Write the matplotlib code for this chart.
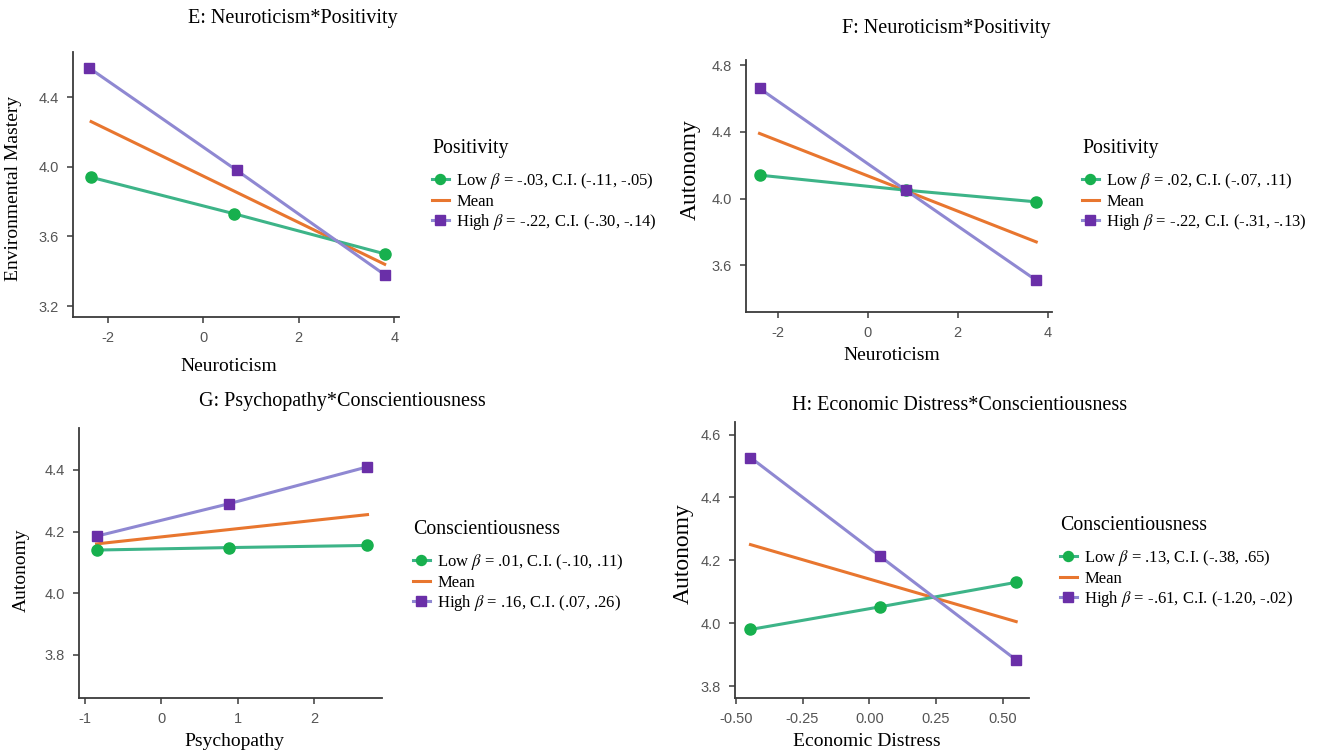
import matplotlib.pyplot as plt
from matplotlib.ticker import FixedLocator

plt.rcParams['mathtext.fontset'] = 'stix'

W, H = 1322, 756

# ---- data ----
# E: Neuroticism*Positivity -> Environmental Mastery
e_x_low = [-2.35, 0.65, 3.8]
e_low = [3.94, 3.73, 3.50]
e_x_high = [-2.4, 0.7, 3.8]
e_high = [4.57, 3.98, 3.38]
e_x_mean = [-2.35, 3.8]
e_mean = [4.26, 3.44]

# F: Neuroticism*Positivity -> Autonomy
f_x = [-2.4, 0.85, 3.75]
f_low = [4.14, 4.05, 3.98]
f_high = [4.66, 4.05, 3.51]
f_x_mean = [-2.4, 3.75]
f_mean = [4.39, 3.74]

# G: Psychopathy*Conscientiousness -> Autonomy
g_x = [-0.85, 0.88, 2.7]
g_low = [4.14, 4.148, 4.155]
g_high = [4.185, 4.29, 4.41]
g_x_mean = [-0.85, 2.7]
g_mean = [4.16, 4.255]

# H: Economic Distress*Conscientiousness -> Autonomy
h_x = [-0.445, 0.04, 0.55]
h_low = [3.98, 4.052, 4.13]
h_high = [4.527, 4.213, 3.883]
h_x_mean = [-0.445, 0.55]
h_mean = [4.25, 4.005]

low_line, low_mark = '#3db488', '#17b04e'
mean_col = '#e8762f'
high_line, high_mark = '#8f88d2', '#6a2fa8'

serif = 'Liberation Serif'
sans = 'Liberation Sans'

fig = plt.figure(figsize=(W / 100, H / 100), dpi=100)


def px_axes(l, t, r, b):
    return fig.add_axes([l / W, 1 - b / H, (r - l) / W, (b - t) / H])


def ftext(x, y, s, **kw):
    fig.text(x / W, 1 - y / H, s, family=serif, color='black', **kw)


def panel(box, xl, yl, xt, yt, xfmt, x_low, low, x_high, high, x_mean, mean,
          title, tpos, xlab, xpos, ylab, ypos, ysize, leg_title, labels, lpos):
    ax = px_axes(*box)
    ax.plot(x_low, low, color=low_line, lw=2.2, marker='o', ms=8,
            mfc=low_mark, mec=low_mark, label=labels[0], zorder=3)
    ax.plot(x_mean, mean, color=mean_col, lw=2.2, label='Mean', zorder=2)
    ax.plot(x_high, high, color=high_line, lw=2.2, marker='s', ms=7.5,
            mfc=high_mark, mec=high_mark, label=labels[1], zorder=4)
    ax.set_xlim(*xl)
    ax.set_ylim(*yl)
    ax.xaxis.set_major_locator(FixedLocator(xt))
    ax.yaxis.set_major_locator(FixedLocator(yt))
    ax.set_xticklabels([xfmt.format(v) for v in xt])
    ax.set_yticklabels(['{:.1f}'.format(v) for v in yt])
    for s in ['top', 'right']:
        ax.spines[s].set_visible(False)
    for s in ['left', 'bottom']:
        ax.spines[s].set_color('#3a3a3a')
        ax.spines[s].set_linewidth(1.3)
    ax.tick_params(direction='out', length=4, width=1.1, color='#3a3a3a',
                   labelcolor='#555555', labelsize=10.5, pad=6)
    for lab in ax.get_xticklabels() + ax.get_yticklabels():
        lab.set_family(sans)

    ftext(tpos[0], tpos[1], title, fontsize=14.5, ha='center', va='center')
    ftext(xpos[0], xpos[1], xlab, fontsize=14, ha='center', va='center')
    ftext(ypos[0], ypos[1], ylab, fontsize=ysize, ha='center', va='center',
          rotation=90)

    leg = ax.legend(loc='upper left',
                    bbox_to_anchor=(lpos[0] / W, 1 - lpos[1] / H),
                    bbox_transform=fig.transFigure, frameon=False,
                    title=leg_title, alignment='left', handlelength=1.0,
                    handletextpad=0.45, labelspacing=0.14, borderpad=0,
                    borderaxespad=0, markerscale=0.9,
                    prop={'family': serif, 'size': 12},
                    title_fontproperties={'family': serif, 'size': 14.3})
    # more room between the legend title and its entries
    leg._legend_box.sep = 9.5
    return ax


panel((73, 52, 399, 317), (-2.73, 4.1), (3.137, 4.66), [-2, 0, 2, 4],
      [3.2, 3.6, 4.0, 4.4], '{:g}', e_x_low, e_low, e_x_high, e_high,
      e_x_mean, e_mean, 'E: Neuroticism*Positivity', (293, 18),
      'Neuroticism', (229, 366), 'Environmental Mastery', (14, 188), 14,
      'Positivity',
      [r'Low $\beta$ = -.03, C.I. (-.11, -.05)',
       r'High $\beta$ = -.22, C.I. (-.30, -.14)'], (432, 139))

panel((746, 60, 1052, 312), (-2.7, 4.1), (3.32, 4.83), [-2, 0, 2, 4],
      [3.6, 4.0, 4.4, 4.8], '{:g}', f_x, f_low, f_x, f_high,
      f_x_mean, f_mean, 'F: Neuroticism*Positivity', (946, 29),
      'Neuroticism', (892, 356), 'Autonomy', (690, 170), 17,
      'Positivity',
      [r'Low $\beta$ = .02, C.I. (-.07, .11)',
       r'High $\beta$ = -.22, C.I. (-.31, -.13)'], (1082, 139))

panel((79, 428, 382, 698), (-1.08, 2.89), (3.66, 4.536), [-1, 0, 1, 2],
      [3.8, 4.0, 4.2, 4.4], '{:g}', g_x, g_low, g_x, g_high,
      g_x_mean, g_mean, 'G: Psychopathy*Conscientiousness', (342, 401),
      'Psychopathy', (234, 742), 'Autonomy', (21, 570), 14,
      'Conscientiousness',
      [r'Low $\beta$ = .01, C.I. (-.10, .11)',
       r'High $\beta$ = .16, C.I. (.07, .26)'], (413, 520))

panel((735, 422, 1029, 698), (-0.503, 0.598), (3.762, 4.64),
      [-0.5, -0.25, 0.0, 0.25, 0.5], [3.8, 4.0, 4.2, 4.4, 4.6], '{:.2f}',
      h_x, h_low, h_x, h_high, h_x_mean, h_mean,
      'H: Economic Distress*Conscientiousness', (960, 405),
      'Economic Distress', (867, 742), 'Autonomy', (683, 554), 17,
      'Conscientiousness',
      [r'Low $\beta$ = .13, C.I. (-.38, .65)',
       r'High $\beta$ = -.61, C.I. (-1.20, -.02)'], (1060, 516))

fig.savefig('out.png', dpi=100, facecolor='white')
